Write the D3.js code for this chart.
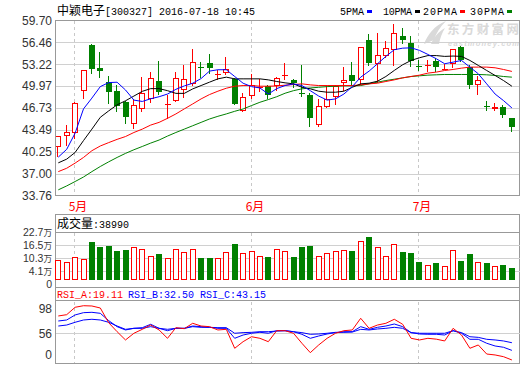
<!DOCTYPE html>
<html><head><meta charset="utf-8">
<script src="https://cdn.jsdelivr.net/npm/d3@7"></script>
<style>
html,body{margin:0;padding:0;background:#fff;}
svg{display:block;}
</style></head><body>
<svg id="chart" width="520" height="365"></svg>
<script>
// ---------- DATA ----------
const dates = ["2016-04-28","2016-04-29","2016-05-03","2016-05-04","2016-05-05","2016-05-06","2016-05-09","2016-05-10","2016-05-11","2016-05-12","2016-05-13","2016-05-16","2016-05-17","2016-05-18","2016-05-19","2016-05-20","2016-05-23","2016-05-24","2016-05-25","2016-05-26","2016-05-27","2016-05-30","2016-05-31","2016-06-01","2016-06-02","2016-06-03","2016-06-06","2016-06-07","2016-06-08","2016-06-13","2016-06-14","2016-06-15","2016-06-16","2016-06-17","2016-06-20","2016-06-21","2016-06-22","2016-06-23","2016-06-24","2016-06-27","2016-06-28","2016-06-29","2016-06-30","2016-07-01","2016-07-04","2016-07-05","2016-07-06","2016-07-07","2016-07-08","2016-07-11","2016-07-12","2016-07-13","2016-07-14","2016-07-15","2016-07-18"];
const openP  = [40.89,42.52,43.07,49.32,56.06,52.64,50.56,49.22,47.58,44.36,46.64,48.08,50.71,47.18,47.83,49.47,50.31,52.87,53.34,51.70,51.90,50.96,46.29,48.52,49.85,50.06,50.01,51.55,50.91,48.95,48.72,44.21,46.84,48.43,50.46,51.60,50.81,56.81,53.19,54.43,55.32,57.35,56.41,52.92,53.00,53.64,52.50,53.29,55.77,52.79,50.21,46.97,46.54,46.84,45.20];
const highP  = [42.60,44.26,47.60,52.30,56.26,55.07,51.45,50.11,47.70,48.00,51.30,52.05,53.73,48.72,52.05,53.04,55.47,53.48,54.72,52.29,54.28,51.15,48.92,51.70,51.05,50.20,51.30,53.39,51.10,53.04,48.90,48.08,50.06,50.10,52.79,53.54,55.80,57.75,57.85,56.61,59.24,58.59,57.40,53.88,53.78,54.18,53.19,55.50,55.90,53.04,51.40,47.83,47.43,47.18,45.30];
const lowP   = [39.50,41.13,42.10,48.08,51.80,51.15,47.33,46.19,44.36,43.66,46.19,47.48,48.72,45.10,47.60,48.18,50.06,51.15,51.80,50.81,51.55,47.23,46.20,48.03,49.07,48.08,49.30,50.90,49.70,48.33,43.96,43.86,46.74,47.18,49.22,49.96,50.16,52.99,50.41,54.08,52.89,56.26,52.79,52.20,52.05,52.05,52.30,52.64,53.60,49.56,48.67,46.24,46.24,45.20,43.12];
const closeP = [42.52,43.22,47.53,52.29,52.54,52.24,49.07,47.04,45.40,47.23,49.02,51.25,49.12,47.28,51.25,51.00,53.48,52.84,52.69,51.75,52.54,47.33,48.43,50.11,49.90,48.72,51.25,51.60,50.46,48.92,45.25,47.09,48.13,50.01,50.81,50.76,55.72,53.44,54.53,55.57,57.85,56.76,53.73,52.89,53.04,52.79,52.54,55.42,53.88,50.16,50.81,46.94,46.84,45.70,43.86];
const volume = [9.5,8.4,10.8,9.8,18.1,15.7,16.2,13.8,14.3,16.0,14.6,11.3,12.4,10.3,14.6,13.3,14.6,10.5,10.5,10.3,13.2,17.1,12.7,14.0,11.3,11.0,14.6,13.7,11.0,15.7,16.2,11.7,12.7,13.7,14.1,13.8,18.4,20.5,15.6,11.7,17.0,13.3,12.9,8.6,7.0,8.1,6.5,14.1,9.0,12.4,8.6,8.1,6.5,7.1,5.7];
const ma5  = [39.45,40.6,43.0,46.6,48.2,49.9,50.5,50.55,49.4,47.9,47.7,48.1,48.4,48.8,49.5,50.0,50.4,51.1,52.2,52.4,52.4,51.4,50.4,49.9,49.7,48.8,49.6,50.06,50.3,50.06,49.3,48.5,47.9,48.08,48.8,49.9,51.3,52.2,53.29,54.38,55.37,55.6,55.65,55.27,54.67,54.03,53.29,53.53,53.78,52.79,51.8,50.31,48.8,47.83,46.74];
const ma10 = [38.6,39.15,40.14,41.9,43.6,45.35,46.3,47.2,47.8,48.5,49.2,49.6,49.6,49.3,48.9,48.9,49.56,50.06,50.56,51.05,51.3,51.05,51.05,51.05,51.05,50.9,50.66,50.46,50.31,49.8,49.57,49.22,49.07,49.07,49.22,49.8,50.31,50.41,50.7,51.4,52.3,53.14,53.78,54.18,54.5,54.5,54.38,54.43,54.38,53.78,53.04,52.29,51.55,50.8,49.96];
const ma20 = [37.3,37.8,38.56,39.4,40.4,41.1,41.6,42.08,42.5,43.1,43.6,44.2,44.6,45.2,45.85,46.6,47.33,48.08,48.72,49.22,49.66,49.96,50.06,50.06,49.96,49.96,50.0,50.11,50.21,50.31,50.16,50.06,50.06,50.06,50.06,50.06,50.16,50.31,50.41,50.66,50.9,51.2,51.4,51.6,51.9,52.05,52.29,52.44,52.64,52.79,52.79,52.79,52.69,52.44,52.15];
const ma30 = [34.6,35.18,35.83,36.5,37.3,38.06,38.75,39.4,40.0,40.54,41.03,41.53,41.98,42.57,43.1,43.6,44.1,44.6,45.1,45.5,45.85,46.24,46.59,47.09,47.58,47.98,48.4,48.92,49.3,49.57,49.7,49.8,49.9,49.96,50.01,50.01,50.06,50.31,50.56,50.8,51.0,51.2,51.4,51.5,51.6,51.65,51.7,51.7,51.7,51.7,51.7,51.65,51.55,51.4,51.3];
const rsiA = [80.4,82.2,92.5,94.7,94.3,91.5,71.0,58.5,47.0,56.3,61.8,67.8,60.9,49.3,64.1,62.7,70.2,66.4,65.5,60.9,61.8,35.4,44.6,51.5,49.3,44.6,59.9,59.9,56.3,42.4,29.3,40.0,49.3,56.3,59.9,60.9,77.2,63.2,67.8,70.2,75.8,68.8,49.3,47.0,49.3,48.1,45.6,63.2,53.9,35.4,40.0,27.4,26.1,23.7,19.11];
const rsiB = [73.4,74.8,81.8,85.0,85.5,84.1,73.9,65.5,60.9,63.2,64.1,68.8,63.2,59.9,63.2,63.2,66.4,65.5,64.6,63.2,63.2,49.3,53.9,56.3,57.7,56.3,59.9,59.9,58.5,54.9,49.3,52.5,55.3,57.2,58.5,58.5,65.5,61.8,64.6,66.4,69.2,65.5,57.2,55.3,54.9,54.9,53.9,59.9,56.3,47.9,47.9,42.4,38.6,36.8,32.5];
const rsiC = [66.4,67.8,71.6,74.8,75.8,74.8,71.6,66.4,61.8,63.2,63.2,65.5,63.2,61.8,63.2,63.2,65.5,64.6,64.6,64.1,64.1,56.3,57.2,57.6,58.5,58.5,59.4,59.9,58.5,57.2,54.9,55.3,56.3,57.6,57.6,58.0,61.8,60.9,62.3,63.2,64.6,63.2,57.2,56.3,56.3,56.3,56.3,59.9,57.2,51.5,50.6,47.9,47.0,45.6,43.15];
const priceTicks = [59.70,56.46,53.22,49.97,46.73,43.49,40.25,37.00,33.76];
const volTicks = [22.7,16.5,10.3,4.1,0];
const rsiTicks = [98,56,0];
const maNames = ["5PMA","10PMA","20PMA","30PMA"];
const maColors = ["#0000ff","#000000","#ff0000","#008000"];
const titleName = "中颖电子", titleRest = "[300327] 2016-07-18 10:45";
const volTitle = "成交量", volValue = ":38990";
const rsiLabels = ["RSI_A:19.11","RSI_B:32.50","RSI_C:43.15"];

// ---------- LAYOUT ----------
const svg = d3.select("#chart");
const L = 55.5, R = 519.5;
const RED = "#ff0000", GREEN = "#008000", FRAME = "#999999", GRID = "#d0d0d0";
const mono = "'Liberation Mono','DejaVu Sans Mono',monospace";
const cjk = "'Noto Sans CJK SC','Noto Sans',sans-serif";
const sans = "'Liberation Sans',Arial,sans-serif";

const N = dates.length;
const x = d3.scaleLinear().domain([0, N - 1]).range([58.3, 511.9]);
const cxOf = i => Math.round(x(i));
const y = d3.scaleLinear().domain([33.76, 59.70]).range([195.5, 20.5]);
const yv = d3.scaleLinear().domain([0, 22.7]).range([280, 232.5]);
const yr = d3.scaleLinear().domain([0, 100]).range([373.7, 301.9]);

const monthStarts = [];
for (let i = 1; i < N; i++) if (dates[i].slice(5,7) !== dates[i-1].slice(5,7)) monthStarts.push(i);

const g = svg.append("g");

// ---------- TITLE ----------
const t = g.append("text").attr("x", 57).attr("y", 14.5).attr("fill", "#000");
t.append("tspan").attr("font-family", cjk).attr("font-size", 12).text(titleName);
t.append("tspan").attr("font-family", mono).attr("font-size", 10).text(titleRest);

// legend
const legX = [340, 383, 423, 470], legW = [25, 30, 35, 35];
maNames.forEach((n, k) => {
  g.append("text").attr("x", legX[k]).attr("y", 14.5).attr("font-family", mono).attr("font-size", 10)
    .attr("textLength", legW[k] - 1).attr("fill", "#000").text(n);
  g.append("rect").attr("x", legX[k] + legW[k] + 2).attr("y", 10).attr("width", 5).attr("height", 3)
    .attr("fill", maColors[k]);
});

// ---------- MAIN PANEL ----------
svg.append("clipPath").attr("id", "clipMain").append("rect")
  .attr("x", L).attr("y", 20.5).attr("width", R - L).attr("height", 175);

// watermark
const wm = g.append("g").attr("fill", "#d9d9d9");
wm.append("path").attr("d", "M424,44 C428,34 434,26 446,21 C440,27 436,33 434,40 Z");
wm.append("path").attr("d", "M431,44 C434,37 438,32 445,28 C442,33 440,38 439,44 Z");
wm.append("text").attr("x", 447).attr("y", 34).attr("font-weight", "bold").attr("font-family", cjk)
  .attr("font-size", 12.5).attr("textLength", 72).text("东方财富网");
wm.append("text").attr("x", 448).attr("y", 45.5).attr("font-weight", "bold").attr("font-family", sans)
  .attr("font-style", "italic").attr("font-size", 7.5).attr("textLength", 71).text("eastmoney.com");

// grid
priceTicks.slice(1, -1).forEach(v => {
  g.append("line").attr("x1", L).attr("x2", R).attr("y1", Math.round(y(v)) + 0.5).attr("y2", Math.round(y(v)) + 0.5)
    .attr("stroke", GRID).attr("shape-rendering", "crispEdges");
});
function monthLines(y1, y2) {
  monthStarts.forEach(i => {
    g.append("line").attr("x1", cxOf(i) - 0.5).attr("x2", cxOf(i) - 0.5).attr("y1", y1).attr("y2", y2)
      .attr("stroke", "#c8c8c8").attr("stroke-dasharray", "3,3").attr("shape-rendering", "crispEdges");
  });
}
monthLines(21, 195);
monthLines(233, 280);
monthLines(301.5, 363);

priceTicks.forEach(v => {
  g.append("text").attr("x", 52).attr("y", y(v)).attr("dy", "0.36em").attr("text-anchor", "end")
    .attr("font-family", sans).attr("font-size", 12).attr("fill", "#333").text(v.toFixed(2));
});

// candles
const cg = g.append("g").attr("clip-path", "url(#clipMain)").attr("shape-rendering", "crispEdges");
for (let i = 0; i < N; i++) {
  const cx = cxOf(i);
  const up = closeP[i] >= openP[i];
  const col = up ? RED : GREEN;
  const top = Math.round(y(Math.max(openP[i], closeP[i])));
  const bot = Math.round(y(Math.min(openP[i], closeP[i])));
  const yh = Math.round(y(highP[i])), yl = Math.round(y(lowP[i]));
  if (up) {
    if (yh < top) cg.append("line").attr("x1", cx - 0.5).attr("x2", cx - 0.5).attr("y1", yh).attr("y2", top).attr("stroke", col);
    if (yl > bot) cg.append("line").attr("x1", cx - 0.5).attr("x2", cx - 0.5).attr("y1", bot).attr("y2", yl).attr("stroke", col);
    if (bot - top < 2) {
      cg.append("rect").attr("x", cx - 3).attr("y", top).attr("width", 6).attr("height", Math.max(1, bot - top)).attr("fill", col);
    } else {
      cg.append("rect").attr("x", cx - 2.5).attr("y", top + 0.5).attr("width", 5).attr("height", bot - top - 1)
        .attr("fill", "#fff").attr("stroke", col);
    }
  } else {
    cg.append("line").attr("x1", cx - 0.5).attr("x2", cx - 0.5).attr("y1", yh).attr("y2", yl).attr("stroke", col);
    cg.append("rect").attr("x", cx - 3).attr("y", top).attr("width", 6).attr("height", Math.max(1, bot - top)).attr("fill", col);
  }
}

// moving averages
const line = d3.line().x((d, i) => x(i)).y(d => y(d));
[ma30, ma20, ma10, ma5].forEach((arr, k) => {
  g.append("path").attr("clip-path", "url(#clipMain)").attr("d", line(arr)).attr("fill", "none")
    .attr("stroke", maColors[3 - k]).attr("stroke-width", 1);
});

g.append("rect").attr("x", L).attr("y", 20.5).attr("width", R - L).attr("height", 175)
  .attr("fill", "none").attr("stroke", FRAME).attr("shape-rendering", "crispEdges");

monthStarts.forEach(i => {
  const m = +dates[i].slice(5, 7);
  g.append("text").attr("x", cxOf(i) + 3).attr("y", 211).attr("text-anchor", "middle")
    .attr("font-family", cjk).attr("font-size", 12).attr("fill", RED).text(m + "月");
});

// ---------- VOLUME PANEL ----------
g.append("rect").attr("x", L).attr("y", 214.5).attr("width", R - L).attr("height", 73)
  .attr("fill", "none").attr("stroke", FRAME).attr("shape-rendering", "crispEdges");
g.append("line").attr("x1", L).attr("x2", R).attr("y1", 232.5).attr("y2", 232.5).attr("stroke", FRAME).attr("shape-rendering", "crispEdges");
const vt = g.append("text").attr("x", 57).attr("y", 228).attr("fill", "#000");
vt.append("tspan").attr("font-family", cjk).attr("font-size", 12).text(volTitle);
vt.append("tspan").attr("font-family", mono).attr("font-size", 10).text(volValue);
volTicks.slice(1, -1).forEach(v => {
  g.append("line").attr("x1", L).attr("x2", R).attr("y1", Math.round(yv(v)) + 0.5).attr("y2", Math.round(yv(v)) + 0.5)
    .attr("stroke", GRID).attr("shape-rendering", "crispEdges");
});
// labels spread evenly so they stay legible
volTicks.forEach((v, k) => {
  const ly = 232.5 + k * 12.9;
  const tt = g.append("text").attr("x", 52).attr("y", ly).attr("dy", "0.34em").attr("text-anchor", "end")
    .attr("font-family", sans).attr("font-size", 10.5).attr("fill", "#333");
  tt.append("tspan").text(v === 0 ? "0" : v.toFixed(1));
  if (v !== 0) tt.append("tspan").attr("font-family", cjk).attr("font-size", 8.6).text("万");
});
const vg = g.append("g").attr("shape-rendering", "crispEdges");
for (let i = 0; i < N; i++) {
  const cx = cxOf(i);
  const up = closeP[i] >= openP[i];
  const top = Math.round(yv(volume[i]));
  if (up) {
    vg.append("rect").attr("x", cx - 2.5).attr("y", top + 0.5).attr("width", 5).attr("height", 280 - top - 1)
      .attr("fill", "#fff").attr("stroke", RED);
  } else {
    vg.append("rect").attr("x", cx - 3).attr("y", top).attr("width", 6).attr("height", 280 - top).attr("fill", GREEN);
  }
}

// ---------- RSI PANEL ----------
g.append("rect").attr("x", L).attr("y", 287.5).attr("width", R - L).attr("height", 76)
  .attr("fill", "none").attr("stroke", FRAME).attr("shape-rendering", "crispEdges");
g.append("line").attr("x1", L).attr("x2", R).attr("y1", 300.5).attr("y2", 300.5).attr("stroke", FRAME).attr("shape-rendering", "crispEdges");
const rsiColors = [RED, "#0000ff", "#0000ff"];
const rsiX = [57, 128, 200];
rsiLabels.forEach((s, k) => {
  g.append("text").attr("x", rsiX[k]).attr("y", 298).attr("font-family", mono).attr("font-size", 10)
    .attr("fill", rsiColors[k]).text(s);
});
g.append("line").attr("x1", L).attr("x2", R).attr("y1", Math.round(yr(56)) + 0.5).attr("y2", Math.round(yr(56)) + 0.5)
  .attr("stroke", GRID).attr("shape-rendering", "crispEdges");
rsiTicks.forEach(v => {
  const yy = Math.max(309, Math.min(355, yr(v)));
  g.append("text").attr("x", 52).attr("y", yy).attr("dy", "0.36em").attr("text-anchor", "end")
    .attr("font-family", sans).attr("font-size", 12).attr("fill", "#333").text(v);
});
svg.append("clipPath").attr("id", "clipRsi").append("rect").attr("x", L).attr("y", 301).attr("width", R - L).attr("height", 62);
const rline = d3.line().x((d, i) => x(i)).y(d => yr(d));
[[rsiC, "#0000ff"], [rsiB, "#0000ff"], [rsiA, RED]].forEach(([arr, c]) => {
  g.append("path").attr("clip-path", "url(#clipRsi)").attr("d", rline(arr)).attr("fill", "none")
    .attr("stroke", c).attr("stroke-width", 1);
});
</script>
</body></html>
